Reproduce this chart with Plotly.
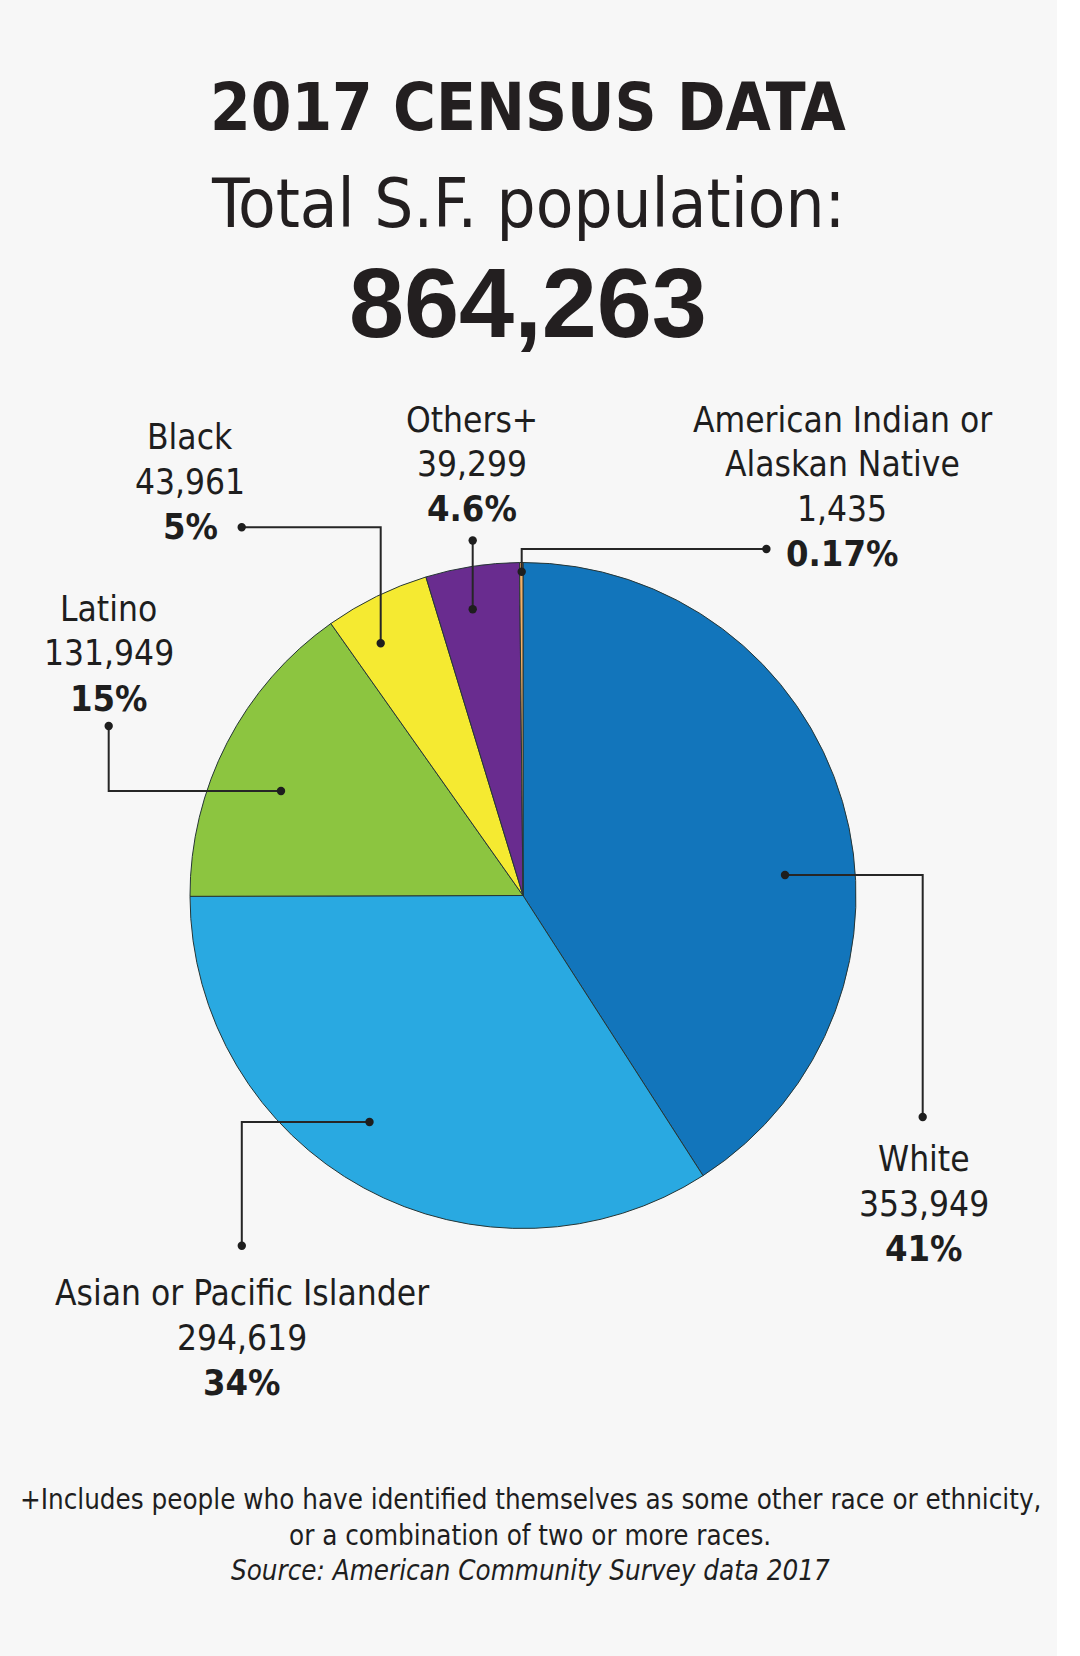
import plotly.graph_objects as go

# ---------------- data ----------------
categories = ["White", "Asian or Pacific Islander", "Latino", "Black", "Others+",
              "American Indian or Alaskan Native"]
values = [353949, 294619, 131949, 43961, 39299, 1435]
percents = ["41%", "34%", "15%", "5%", "4.6%", "0.17%"]
colors = ["#1275bb", "#29a9e1", "#8cc540", "#f5ea31", "#692c8f", "#f4b066"]
label_names = [["White"], ["Asian or Pacific Islander"], ["Latino"], ["Black"],
               ["Others+"], ["American Indian or", "Alaskan Native"]]
title_lines = ["2017 CENSUS DATA", "Total S.F. population:", "864,263"]
footer_lines = ["+Includes people who have identified themselves as some other race or ethnicity,",
                "or a combination of two or more races.",
                "Source: American Community Survey data 2017"]

# ---------------- layout constants (pixels) ----------------
W, H = 1080, 1656
CX, CY, R = 523, 895.5, 333
NARROW = "DejaVu Sans Condensed, Liberation Sans Narrow, sans-serif"
TXT = "#1e1e1e"

def px(x):
    return x / W

def py(y):
    return 1 - y / H

# label block: centre x, first line centre y
label_pos = [(923.7, 1159), (241.8, 1293), (108.7, 609), (190, 437), (472, 420), (842, 420)]
LINE_PITCH = 44.5

# leader polylines (pixel coords)
leaders = [
    [(785, 875), (922.7, 875), (922.7, 1117)],
    [(369.5, 1122), (241.8, 1122), (241.8, 1245.7)],
    [(281, 791), (108.7, 791), (108.7, 726)],
    [(380.7, 643.3), (380.7, 527.3), (241.7, 527.3)],
    [(472.7, 609.3), (472.7, 540.5)],
    [(521.7, 571.7), (521.7, 549), (766.4, 549)],
]

fig = go.Figure()
fig.add_trace(go.Pie(
    labels=categories, values=values, sort=False, direction="clockwise", rotation=0,
    marker=dict(colors=colors, line=dict(color="#263636", width=1)),
    textinfo="none", hoverinfo="label+value+percent", showlegend=False,
    domain=dict(x=[px(CX - R), px(CX + R)], y=[py(CY + R), py(CY - R)]),
))

shapes = [dict(type="rect", xref="paper", yref="paper", x0=0, x1=px(1057), y0=0, y1=1,
               fillcolor="#f7f7f7", line=dict(width=0), layer="below")]
DOT = 4.2
for pts in leaders:
    path = "M " + " L ".join(f"{px(x)},{py(y)}" for x, y in pts)
    shapes.append(dict(type="path", xref="paper", yref="paper", path=path,
                       line=dict(color="#262626", width=2), layer="above"))
    for (x, y) in (pts[0], pts[-1]):
        shapes.append(dict(type="circle", xref="paper", yref="paper",
                           x0=px(x - DOT), x1=px(x + DOT), y0=py(y + DOT), y1=py(y - DOT),
                           fillcolor="#1e1e1e", line=dict(width=0), layer="above"))

annotations = []

def add_text(text, x, y, size, family=NARROW, color=TXT):
    annotations.append(dict(text=text, x=px(x), y=py(y), xref="paper", yref="paper",
                            xanchor="center", yanchor="middle", showarrow=False,
                            font=dict(family=family, size=size, color=color)))

# titles
add_text(f"<b>{title_lines[0]}</b>", 528, 108, 65, color="#231f20")
add_text(title_lines[1], 528, 203, 68.5, color="#231f20")
add_text(f"<b>{title_lines[2]}</b>", 528, 302, 99,
         family="Liberation Sans, Arial, sans-serif", color="#231f20")

# slice labels
for names, v, p, (lx, ly) in zip(label_names, values, percents, label_pos):
    lines = [(n, False) for n in names] + [(f"{v:,}", False), (p, True)]
    for i, (t, bold) in enumerate(lines):
        add_text(f"<b>{t}</b>" if bold else t, lx, ly + i * LINE_PITCH, 36 if bold else 35)

# footer
add_text(footer_lines[0], 530, 1499, 27.5)
add_text(footer_lines[1], 530, 1535, 27.5)
add_text(f"<i>{footer_lines[2]}</i>", 530, 1570, 27.5)

fig.update_layout(width=W, height=H, margin=dict(l=0, r=0, t=0, b=0),
                  paper_bgcolor="#ffffff", plot_bgcolor="#ffffff",
                  shapes=shapes, annotations=annotations)
fig.write_html("out.html")
